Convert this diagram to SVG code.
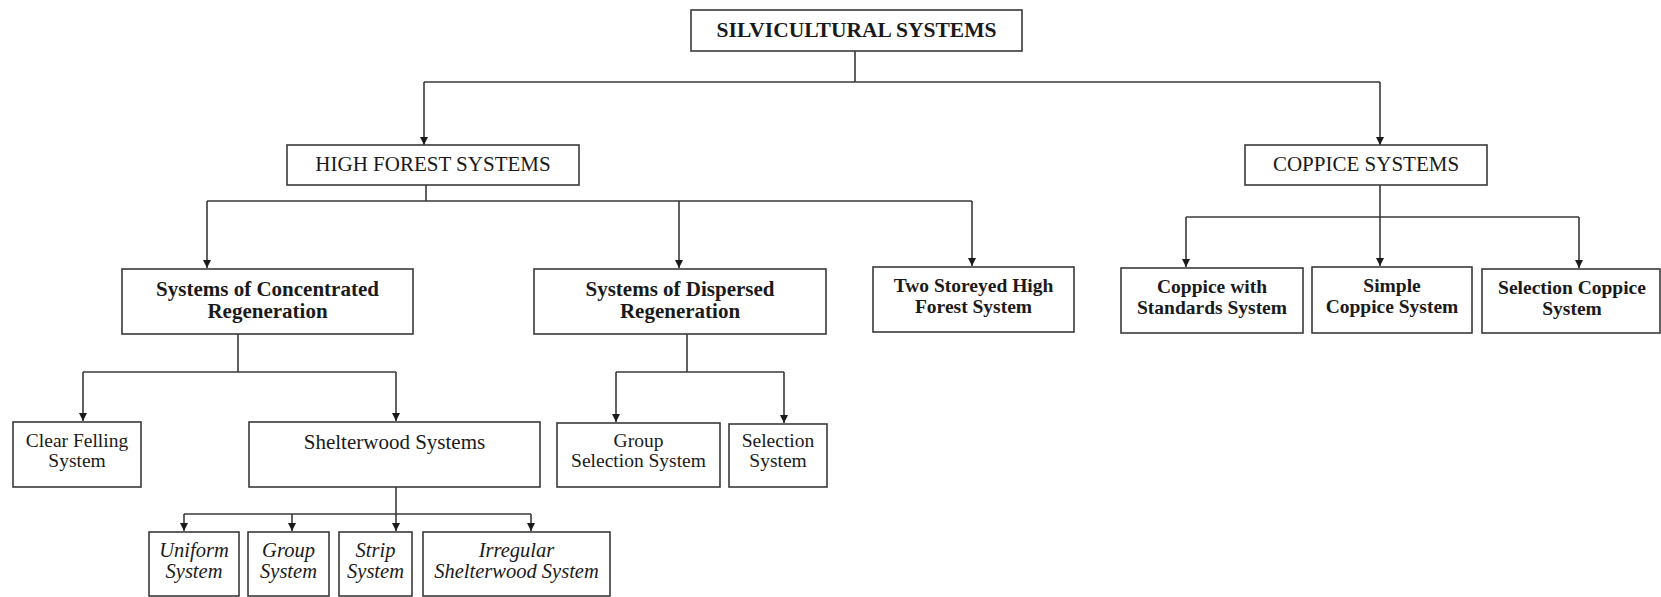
<svg xmlns="http://www.w3.org/2000/svg" width="1661" height="597" viewBox="0 0 1661 597">
<style>
  .box { fill: #ffffff; stroke: #3a3a3a; stroke-width: 1.6; }
  .ln { fill: none; stroke: #3a3a3a; stroke-width: 1.6; }
  .ar { fill: none; stroke: #3a3a3a; stroke-width: 1.6; marker-end: url(#ah); }
  text { font-family: "Liberation Serif", "Times New Roman", serif; fill: #1a1a1a; text-anchor: middle; }
  .t1 { font-size: 21.5px; font-weight: bold; }
  .t2 { font-size: 21px; }
  .b1 { font-size: 21px; font-weight: bold; }
  .b2 { font-size: 19.5px; font-weight: bold; }
  .r3 { font-size: 19.5px; }
  .i4 { font-size: 20.5px; font-style: italic; }
</style>
<defs>
  <marker id="ah" viewBox="0 0 10 10" refX="10" refY="5" markerWidth="10" markerHeight="8" markerUnits="userSpaceOnUse" orient="auto">
    <path d="M0,0 L10,5 L0,10 z" fill="#1a1a1a"/>
  </marker>
</defs>
<rect width="1661" height="597" fill="#ffffff"/>

<g id="connectors">
  <path class="ln" d="M855,51 V82 M424,82 H1380"/>
  <path class="ar" d="M424,82 V145"/>
  <path class="ar" d="M1380,82 V145"/>
  <path class="ln" d="M426,185 V201 M207,201 H972"/>
  <path class="ar" d="M207,201 V268"/>
  <path class="ar" d="M679,201 V268"/>
  <path class="ar" d="M972,201 V266"/>
  <path class="ln" d="M1186,217 H1579"/>
  <path class="ar" d="M1380,185 V266"/>
  <path class="ar" d="M1186,217 V267"/>
  <path class="ar" d="M1579,217 V268"/>
  <path class="ln" d="M238,334 V372 M83,372 H396"/>
  <path class="ar" d="M83,372 V421"/>
  <path class="ar" d="M396,372 V421"/>
  <path class="ln" d="M687,334 V372 M616,372 H784"/>
  <path class="ar" d="M616,372 V422"/>
  <path class="ar" d="M784,372 V423"/>
  <path class="ln" d="M396,487 V514 M184,514 H531"/>
  <path class="ar" d="M184,514 V531"/>
  <path class="ar" d="M292,514 V531"/>
  <path class="ar" d="M396,514 V531"/>
  <path class="ar" d="M531,514 V531"/>
</g>

<g id="silvicultural">
  <rect class="box" x="691" y="10" width="331" height="41"/>
  <text class="t1" x="856.5" y="37">SILVICULTURAL SYSTEMS</text>
</g>
<g id="high-forest">
  <rect class="box" x="287" y="145" width="292" height="40"/>
  <text class="t2" x="433" y="171">HIGH FOREST SYSTEMS</text>
</g>
<g id="coppice">
  <rect class="box" x="1245" y="145" width="242" height="40"/>
  <text class="t2" x="1366" y="171">COPPICE SYSTEMS</text>
</g>

<g id="concentrated">
  <rect class="box" x="122" y="269" width="291" height="65"/>
  <text class="b1" x="267.5" y="296">Systems of Concentrated</text>
  <text class="b1" x="267.5" y="318">Regeneration</text>
</g>
<g id="dispersed">
  <rect class="box" x="534" y="269" width="292" height="65"/>
  <text class="b1" x="680" y="296">Systems of Dispersed</text>
  <text class="b1" x="680" y="318">Regeneration</text>
</g>
<g id="two-storeyed">
  <rect class="box" x="873" y="267" width="201" height="65"/>
  <text class="b2" x="973.5" y="292">Two Storeyed High</text>
  <text class="b2" x="973.5" y="313">Forest System</text>
</g>
<g id="coppice-standards">
  <rect class="box" x="1121" y="268" width="182" height="65"/>
  <text class="b2" x="1212" y="293">Coppice with</text>
  <text class="b2" x="1212" y="314">Standards System</text>
</g>
<g id="simple-coppice">
  <rect class="box" x="1312" y="267" width="160" height="66"/>
  <text class="b2" x="1392" y="292">Simple</text>
  <text class="b2" x="1392" y="313">Coppice System</text>
</g>
<g id="selection-coppice">
  <rect class="box" x="1482" y="269" width="178" height="64"/>
  <text class="b2" x="1572" y="294">Selection Coppice</text>
  <text class="b2" x="1572" y="315">System</text>
</g>

<g id="clear-felling">
  <rect class="box" x="13" y="422" width="128" height="65"/>
  <text class="r3" x="77" y="447">Clear Felling</text>
  <text class="r3" x="77" y="467">System</text>
</g>
<g id="shelterwood">
  <rect class="box" x="249" y="422" width="291" height="65"/>
  <text class="t2" x="394.5" y="449">Shelterwood Systems</text>
</g>
<g id="group-selection">
  <rect class="box" x="557" y="423" width="163" height="64"/>
  <text class="r3" x="638.5" y="447">Group</text>
  <text class="r3" x="638.5" y="467">Selection System</text>
</g>
<g id="selection">
  <rect class="box" x="729" y="424" width="98" height="63"/>
  <text class="r3" x="778" y="447">Selection</text>
  <text class="r3" x="778" y="467">System</text>
</g>

<g id="uniform">
  <rect class="box" x="149" y="532" width="90" height="64"/>
  <text class="i4" x="194" y="557">Uniform</text>
  <text class="i4" x="194" y="578">System</text>
</g>
<g id="group">
  <rect class="box" x="248" y="532" width="81" height="64"/>
  <text class="i4" x="288.5" y="557">Group</text>
  <text class="i4" x="288.5" y="578">System</text>
</g>
<g id="strip">
  <rect class="box" x="339" y="532" width="73" height="64"/>
  <text class="i4" x="375.5" y="557">Strip</text>
  <text class="i4" x="375.5" y="578">System</text>
</g>
<g id="irregular">
  <rect class="box" x="423" y="532" width="187" height="64"/>
  <text class="i4" x="516.5" y="557">Irregular</text>
  <text class="i4" x="516.5" y="578">Shelterwood System</text>
</g>
</svg>
